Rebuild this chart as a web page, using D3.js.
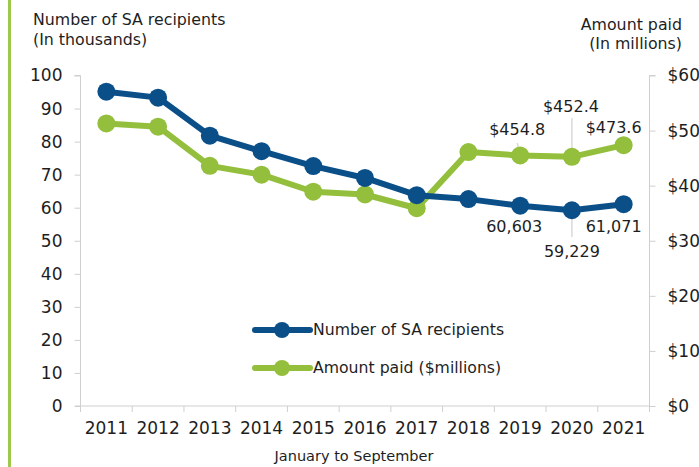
<!DOCTYPE html>
<html>
<head>
<meta charset="utf-8">
<script src="https://cdn.jsdelivr.net/npm/d3@7"></script>
<style>
  body { margin: 0; background: #fff; }
  svg { display: block; font-family: "DejaVu Sans", Verdana, sans-serif; }
</style>
</head>
<body>
<div id="chart"></div>
<script>
// chart data
const years = ["2011", "2012", "2013", "2014", "2015", "2016", "2017", "2018", "2019", "2020", "2021"];
const recipients = [95.1, 93.3, 81.8, 77.1, 72.6, 69.0, 63.8, 62.6, 60.603, 59.229, 61.071];
const amountPaid = [513, 507, 436, 420, 389, 384, 359, 461, 454.8, 452.4, 473.6];
const leftTicks = [0, 10, 20, 30, 40, 50, 60, 70, 80, 90, 100];
const rightTicks = [0, 100, 200, 300, 400, 500, 600];

let width = 699, height = 467;
let blue = "#0b4f89", green = "#93bf3c", axisGray = "#cfcfcf", textCol = "#1e1e1e";

let svg = d3.select("#chart").append("svg")
    .attr("width", width)
    .attr("height", height);

// green border strip on the left
svg.append("rect").attr("x", 8).attr("y", 0).attr("width", 3).attr("height", height).attr("fill", "#9cc84b");

let x = d3.scaleBand().domain(years).range([80.5, 649.5]);
let yL = d3.scaleLinear().domain([0, 100]).range([406, 75.5]);
let yR = d3.scaleLinear().domain([0, 600]).range([406, 75.5]);
let cx = d => x(d) + x.bandwidth() / 2;

// left axis
let gL = svg.append("g").attr("transform", "translate(80.5,0)")
    .call(d3.axisLeft(yL).tickValues(leftTicks).tickSize(6).tickPadding(12));
gL.select(".domain").attr("stroke", axisGray).attr("d", `M-6,${yL(100)}H0V${yL(0)}`);
gL.selectAll(".tick line").attr("stroke", axisGray);
gL.selectAll(".tick text").attr("fill", textCol).style("font-size", "17px").style("font-family", "DejaVu Sans, Verdana");

// right axis (labels run off the right edge, as in the original)
let gR = svg.append("g").attr("transform", "translate(649.5,0)")
    .call(d3.axisRight(yR).tickValues(rightTicks).tickSize(6).tickPadding(12).tickFormat(d => "$" + d));
gR.select(".domain").attr("stroke", axisGray).attr("d", `M6,${yR(600)}H0V${yR(0)}`);
gR.selectAll(".tick line").attr("stroke", axisGray);
gR.selectAll(".tick text").attr("fill", textCol).style("font-size", "17px").style("font-family", "DejaVu Sans, Verdana");

// bottom axis
let gB = svg.append("g").attr("transform", "translate(0,406)")
    .call(d3.axisBottom(x).tickSize(0).tickPadding(16));
gB.select(".domain").remove();
gB.selectAll(".tick text").attr("fill", textCol).style("font-size", "17px").style("font-family", "DejaVu Sans, Verdana");
svg.append("line").attr("x1", 75).attr("x2", 649.5).attr("y1", 406).attr("y2", 406).attr("stroke", axisGray);
svg.selectAll(".bound").data(years.concat(["end"])).enter().append("line")
    .attr("x1", (d, i) => 80.5 + i * x.bandwidth())
    .attr("x2", (d, i) => 80.5 + i * x.bandwidth())
    .attr("y1", 406).attr("y2", 412).attr("stroke", axisGray);

svg.append("text").attr("x", 354).attr("y", 461).attr("text-anchor", "middle")
    .style("font-size", "14.5px").attr("fill", textCol).text("January to September");

// axis titles
svg.append("text").attr("x", 33).attr("y", 25).style("font-size", "15.8px").attr("fill", textCol).text("Number of SA recipients");
svg.append("text").attr("x", 33).attr("y", 45).style("font-size", "15.8px").attr("fill", textCol).text("(In thousands)");
svg.append("text").attr("x", 682).attr("y", 30).attr("text-anchor", "end").style("font-size", "15.8px").attr("fill", textCol).text("Amount paid");
svg.append("text").attr("x", 682).attr("y", 49).attr("text-anchor", "end").style("font-size", "15.8px").attr("fill", textCol).text("(In millions)");

// leader lines for labels
let leader = [
  [cx("2019") - 3, 143, cx("2019"), yR(454.8)],
  [cx("2020"), 118, cx("2020"), yR(452.4)],
  [cx("2020"), yL(59.229), cx("2020"), 237]
];
svg.selectAll(".leader").data(leader).enter().append("line")
    .attr("x1", d => d[0]).attr("y1", d => d[1]).attr("x2", d => d[2]).attr("y2", d => d[3])
    .attr("stroke", "#d9d9d9").attr("stroke-width", 1.5);

// series
function drawSeries(values, yScale, color) {
    let line = d3.line().x((d, i) => cx(years[i])).y(d => yScale(d));
    svg.append("path").datum(values).attr("d", line)
        .attr("fill", "none").attr("stroke", color).attr("stroke-width", 6).attr("stroke-linejoin", "round");
    svg.selectAll(null).data(values).enter().append("circle")
        .attr("cx", (d, i) => cx(years[i])).attr("cy", d => yScale(d)).attr("r", 9).attr("fill", color);
}
drawSeries(amountPaid, yR, green);
drawSeries(recipients, yL, blue);

// data labels: [year, value, dx, baseline]
let amountLabels = [["2019", 454.8, -3, 135], ["2020", 452.4, -1, 112], ["2021", 473.6, -10, 133]];
let recipLabels = [["2019", 60603, -6, 232], ["2020", 59229, 0, 257], ["2021", 61071, -10, 232]];
svg.selectAll(".albl").data(amountLabels).enter().append("text")
    .attr("x", d => cx(d[0]) + d[2]).attr("y", d => d[3]).attr("text-anchor", "middle")
    .style("font-size", "16px").attr("fill", textCol).text(d => "$" + d[1].toFixed(1));
svg.selectAll(".rlbl").data(recipLabels).enter().append("text")
    .attr("x", d => cx(d[0]) + d[2]).attr("y", d => d[3]).attr("text-anchor", "middle")
    .style("font-size", "16px").attr("fill", textCol).text(d => d3.format(",")(d[1]));

// legend
let legend = [["Number of SA recipients", blue, 330], ["Amount paid ($millions)", green, 368]];
let lg = svg.selectAll(".lg").data(legend).enter().append("g");
lg.append("line").attr("x1", 255).attr("x2", 310).attr("y1", d => d[2]).attr("y2", d => d[2])
    .attr("stroke", d => d[1]).attr("stroke-width", 6).attr("stroke-linecap", "round");
lg.append("circle").attr("cx", 282).attr("cy", d => d[2]).attr("r", 8).attr("fill", d => d[1]);
lg.append("text").attr("x", 313).attr("y", d => d[2] + 5).style("font-size", "15.7px").attr("fill", textCol).text(d => d[0]);
</script>
</body>
</html>
